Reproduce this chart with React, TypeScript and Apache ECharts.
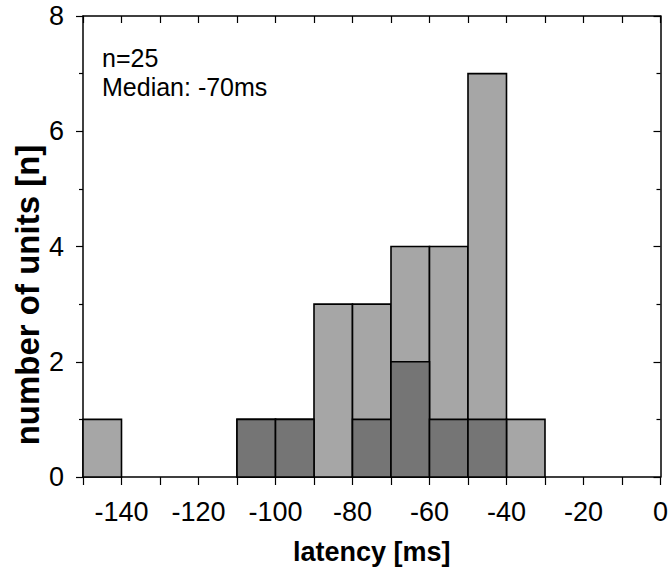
import React, { useEffect, useRef } from "react";
import * as echarts from "echarts";

const binStarts = [-150, -140, -130, -120, -110, -100, -90, -80, -70, -60, -50, -40, -30, -20, -10];
const binWidth = 10;
const allUnits = [1, 0, 0, 0, 1, 1, 3, 3, 4, 4, 7, 1, 0, 0, 0];
const subsetUnits = [0, 0, 0, 0, 1, 1, 0, 1, 2, 1, 1, 0, 0, 0, 0];
const annotations = ["n=25", "Median: -70ms"];
const xTitle = "latency [ms]";
const yTitle = "number of units [n]";

const FONT = "'Liberation Sans', Arial, Helvetica, sans-serif";

function toData(counts: number[]) {
  return binStarts
    .map((s, i) => [s, s + binWidth, counts[i]])
    .filter((d) => d[2] > 0);
}

function barSeries(counts: number[], color: string, z: number) {
  return {
    type: "custom",
    z,
    data: toData(counts),
    encode: { x: [0, 1], y: 2 },
    renderItem: (params: any, api: any) => {
      const a = api.coord([api.value(0), api.value(2)]);
      const b = api.coord([api.value(1), 0]);
      return {
        type: "rect",
        shape: { x: a[0], y: a[1], width: b[0] - a[0], height: b[1] - a[1] },
        style: { fill: color, stroke: "#000", lineWidth: 1.6 },
      };
    },
  };
}

export default function App() {
  const ref = useRef<HTMLDivElement>(null);
  useEffect(() => {
    if (!ref.current) return;
    const chart = echarts.init(ref.current, undefined, { renderer: "svg" });
    const axisLine = { show: true, onZero: false, lineStyle: { color: "#000", width: 1.5 } };
    const tickStyle = { color: "#000", width: 1.2 };
    chart.setOption({
      animation: false,
      backgroundColor: "#fff",
      textStyle: { fontFamily: FONT },
      grid: { left: 83, right: 8, top: 16, bottom: 91 },
      xAxis: [
        {
          type: "value",
          min: -150,
          max: 0,
          interval: 10,
          position: "bottom",
          axisLine,
          axisTick: { show: true, length: 8, lineStyle: tickStyle },
          axisLabel: {
            color: "#000",
            fontSize: 27,
            fontFamily: FONT,
            margin: 21,
            formatter: (v: number) => (v % 20 === 0 ? String(v) : ""),
          },
          splitLine: { show: false },
          name: xTitle,
          nameLocation: "middle",
          nameGap: 61,
          nameTextStyle: { color: "#000", fontSize: 27, fontWeight: "bold", fontFamily: FONT },
        },
        {
          type: "value",
          min: -150,
          max: 0,
          interval: 10,
          position: "top",
          axisLine,
          axisTick: { show: true, inside: true, length: 7, lineStyle: tickStyle },
          axisLabel: { show: false },
          splitLine: { show: false },
        },
      ],
      yAxis: [
        {
          type: "value",
          min: 0,
          max: 8,
          interval: 2,
          position: "left",
          axisLine,
          axisTick: { show: true, length: 7, lineStyle: tickStyle },
          minorTick: { show: true, splitNumber: 2, length: 4, lineStyle: tickStyle },
          axisLabel: { color: "#000", fontSize: 27, fontFamily: FONT, margin: 19 },
          splitLine: { show: false },
        },
        {
          type: "value",
          min: 0,
          max: 8,
          interval: 2,
          position: "right",
          axisLine,
          axisTick: { show: true, inside: true, length: 7, lineStyle: tickStyle },
          minorTick: { show: true, splitNumber: 2, length: 4, lineStyle: tickStyle },
          axisLabel: { show: false },
          splitLine: { show: false },
        },
      ],
      graphic: [
        {
          type: "text",
          x: 27,
          y: 295,
          rotation: Math.PI / 2,
          style: {
            text: yTitle,
            fontSize: 33,
            fontWeight: "bold",
            fontFamily: FONT,
            fill: "#000",
            align: "center",
            verticalAlign: "middle",
          },
        },
        {
          type: "text",
          left: 102,
          top: 45,
          style: { text: annotations[0], fontSize: 25, fontFamily: FONT, fill: "#000" },
        },
        {
          type: "text",
          left: 102,
          top: 74,
          style: { text: annotations[1], fontSize: 25, fontFamily: FONT, fill: "#000" },
        },
      ],
      series: [barSeries(allUnits, "#a6a6a6", 2), barSeries(subsetUnits, "#757575", 3)],
    });
    return () => chart.dispose();
  }, []);
  return <div ref={ref} style={{ width: 671, height: 570, position: "absolute", left: 0, top: 0 }} />;
}
